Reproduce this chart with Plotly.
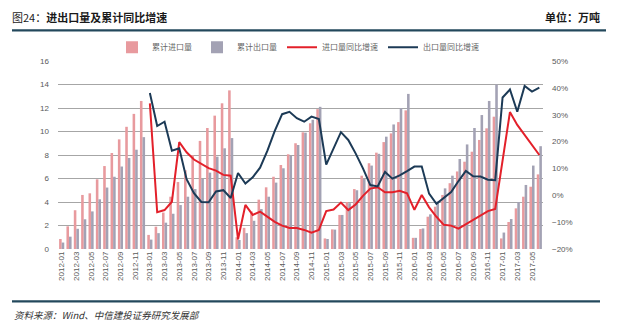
import plotly.graph_objects as go

# Monthly categories, 2012-01 .. 2017-06
months = [f"{y}-{m:02d}" for y in range(2012, 2018) for m in range(1, 13)][:66]
tick_labels = months[::2]

# Cumulative import volume (万吨)
import_cum = [0.85, 1.93, 3.3, 4.6, 4.74, 5.93, 7.06, 8.17, 9.33, 10.4, 11.5, 12.6,
              1.2, 1.9, 3.1, 4.45, 5.7, 6.7, 8.0, 9.2, 10.3, 11.35, 12.4, 13.5,
              1.0, 1.8, 3.2, 4.2, 5.25, 6.15, 7.15, 8.06, 9.0, 9.93, 10.7, 11.9,
              0.9, 1.67, 2.9, 4.0, 5.1, 6.24, 7.3, 8.2, 9.1, 9.84, 10.8, 11.8,
              0.95, 1.7, 2.75, 3.6, 4.6, 5.6, 6.6, 7.43, 8.28, 9.28, 10.27, 11.26,
              0.9, 2.3, 3.46, 4.45, 5.3, 6.35]

# Cumulative export volume (万吨)
export_cum = [0.55, 1.05, 1.72, 2.53, 3.2, 4.23, 5.23, 6.15, 7.02, 7.75, 8.45, 9.52,
              0.8, 1.35, 2.24, 3.0, 3.74, 4.45, 5.1, 5.96, 6.5, 7.86, 8.57, 9.44,
              0.77, 1.35, 2.4, 3.4, 4.45, 5.65, 6.87, 7.94, 8.85, 9.9, 11.0, 12.1,
              0.85, 1.65, 2.9, 3.9, 5.0, 5.96, 7.1, 8.1, 9.56, 10.6, 12.0, 13.2,
              0.95, 1.75, 2.95, 4.05, 5.16, 6.24, 7.66, 8.9, 10.3, 11.4, 12.6, 14.0,
              1.4, 2.55, 4.0, 5.45, 7.1, 8.75]

# Year-on-year growth of imports (%)
import_yoy = [None] * 12 + [
    34.2, -6.3, -5.5, -2.4, 19.8, 16.0, 13.3, 11.7, 10.1, 9.2, 7.6, 7.3,
    -16.4, -3.6, -7.3, -6.1, -7.9, -9.9, -11.3, -12.2, -12.2, -12.9, -13.9, -12.9,
    -5.9, -5.3, -2.7, -5.5, -3.4, -0.2, 2.5, 3.0, 1.1, 1.1, 1.7, 0.7,
    -5.4, 0.1, -4.5, -8.0, -11.0, -11.3, -12.4, -10.8, -9.2, -7.6, -5.9, -5.1,
    13.0, 31.0, 26.2, 22.4, 18.7, 15.0]

# Year-on-year growth of exports (%)
export_yoy = [None] * 12 + [
    38.1, 25.8, 27.4, 16.6, 17.5, 6.0, 0.8, -2.5, -2.6, 1.4, 1.9, -1.0,
    8.3, 4.4, 6.7, 10.3, 16.6, 24.0, 30.2, 31.1, 28.7, 27.4, 29.3, 28.4,
    11.4, 17.2, 23.5, 20.6, 15.6, 10.0, 3.8, 3.3, 8.7, 6.2, 7.4, 9.0,
    10.7, 10.7, 0.6, -3.2, -0.9, 1.2, 5.3, 9.1, 7.1, 7.0, 5.8, 5.6,
    36.4, 39.4, 31.1, 40.7, 38.6, 40.1]

W, H = 640, 332
L, R, T, B = 58, 543, 60.7, 249.5


def px(x):
    return (x - L) / (R - L)


def py(y):
    return (B - y) / (B - T)


CJK = "Noto Sans CJK SC, Liberation Sans, sans-serif"
NUM = "Liberation Sans, Arial, sans-serif"
TEAL = "#23485C"

fig = go.Figure()
fig.add_trace(go.Bar(x=months, y=import_cum, name="累计进口量",
                     marker=dict(color="#E89A9E", line_width=0)))
fig.add_trace(go.Bar(x=months, y=export_cum, name="累计出口量",
                     marker=dict(color="#A3A2B4", line_width=0)))
fig.add_trace(go.Scatter(x=months, y=import_yoy, name="进口量同比增速", yaxis="y2",
                         mode="lines", line=dict(color="#E3202A", width=2)))
fig.add_trace(go.Scatter(x=months, y=export_yoy, name="出口量同比增速", yaxis="y2",
                         mode="lines", line=dict(color="#1C3A56", width=2)))

fig.update_layout(
    width=W, height=H,
    margin=dict(l=L, r=W - R, t=T, b=H - B, pad=0),
    paper_bgcolor="white", plot_bgcolor="white",
    barmode="group", bargap=0.3, bargroupgap=0.0,
    font=dict(family=NUM, size=8, color="#595959"),
    showlegend=True,
    legend=dict(orientation="h", x=px(112), xanchor="left", y=py(47), yanchor="middle",
                font=dict(family=CJK, size=8, color="#666666"),
                itemwidth=30, tracegroupgap=0, bgcolor="rgba(0,0,0,0)"),
    xaxis=dict(type="category", categoryorder="array", categoryarray=months,
               tickmode="array", tickvals=tick_labels, ticktext=tick_labels,
               tickangle=-90, tickfont=dict(size=8, color="#595959"),
               showgrid=False, showline=False, ticks="", zeroline=False),
    yaxis=dict(range=[0, 16], dtick=2, showgrid=True, gridcolor="#A6A6A6", gridwidth=1,
               zeroline=False, showline=False, ticks="", tickfont=dict(size=8, color="#595959"),
               ticklabelstandoff=8),
    yaxis2=dict(range=[-20, 50], dtick=10, overlaying="y", side="right", showgrid=False,
                zeroline=False, showline=False, ticks="", ticksuffix="%",
                tickfont=dict(size=8, color="#595959"), ticklabelstandoff=8),
)

# Header and footer rules
fig.add_shape(type="line", xref="paper", yref="paper", x0=px(12), x1=px(606),
              y0=py(30), y1=py(30), line=dict(color=TEAL, width=2.2))
fig.add_shape(type="line", xref="paper", yref="paper", x0=px(12), x1=px(600),
              y0=py(302), y1=py(302), line=dict(color=TEAL, width=2.2))

fig.add_annotation(xref="paper", yref="paper", x=px(10), y=py(17), xanchor="left", yanchor="middle",
                   text="图24：<b>进出口量及累计同比增速</b>", showarrow=False,
                   font=dict(family=CJK, size=11, color="#1a1a1a"))
fig.add_annotation(xref="paper", yref="paper", x=px(602), y=py(17), xanchor="right", yanchor="middle",
                   text="<b>单位：万吨</b>", showarrow=False,
                   font=dict(family=CJK, size=11, color="#1a1a1a"))
fig.add_annotation(xref="paper", yref="paper", x=px(12), y=py(316), xanchor="left", yanchor="middle",
                   text="<i>资料来源：Wind、中信建投证券研究发展部</i>", showarrow=False,
                   font=dict(family=CJK, size=9.5, color="#333333"))

fig.write_html("out.html")
